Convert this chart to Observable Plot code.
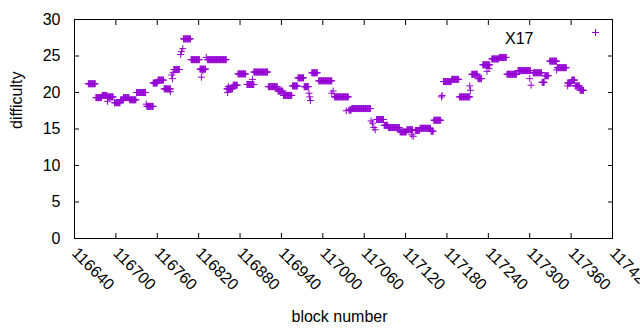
<!DOCTYPE html>
<html>
<head>
<meta charset="utf-8">
<script src="https://cdn.jsdelivr.net/npm/d3@7"></script>
<script src="https://cdn.jsdelivr.net/npm/@observablehq/plot@0.6"></script>
<style>
  html, body { margin: 0; padding: 0; background: #fff; }
  #chart svg { display: block; font-family: "Liberation Sans", Arial, sans-serif; }
</style>
</head>
<body>
<div id="chart"></div>
<script>
// Runs of consecutive blocks sharing (roughly) the same difficulty
const runStart = [116660,116671,116680,116688,116698,116707,116711,116720,116730,116745,116754,116761,116770,116784,116798,116809,116822,116833,116861,116870,116877,116890,116901,116921,116935,116943,116956,116964,116973,116984,116994,117017,117038,117042,117078,117089,117095,117112,117122,117134,117141,117157,117161,117175,117187,117198,117216,117225,117232,117245,117256,117267,117283,117305,117318,117322,117329,117340,117355,117361,117366,117373];
const runEnd   = [116670,116679,116687,116696,116706,116711,116719,116729,116743,116754,116760,116769,116779,116792,116808,116821,116830,116860,116869,116876,116888,116900,116920,116934,116942,116955,116963,116972,116979,116992,117013,117037,117041,117069,117088,117094,117111,117121,117130,117140,117156,117160,117171,117186,117197,117213,117224,117230,117242,117255,117266,117281,117301,117317,117321,117327,117339,117353,117360,117365,117372,117378];
const runDifficulty = [21.2,19.3,19.6,19.4,18.6,19.0,19.3,19.0,20.0,18.1,21.3,21.7,20.5,23.15,27.35,24.5,23.2,24.5,20.5,21.0,22.55,21.1,22.8,20.8,20.2,19.6,20.9,22.0,20.8,22.7,21.6,19.4,17.6,17.8,16.3,15.5,15.2,14.6,14.9,14.8,15.1,14.7,16.2,21.5,21.8,19.4,22.5,21.9,23.8,24.6,24.8,22.5,23.0,22.7,21.4,22.3,24.3,23.4,21.3,21.7,20.9,20.3];

// Isolated blocks
const singleBlock = [116688,116744,116779,116781,116782,116783,116794,116795,116797,116824,116826,116831,116862,116863,116898,116900,116980,116981,116982,117013,117015,117034,117070,117072,117074,117076,117129,117131,117172,117173,117213,117214,117238,117241,117300,117302,117339,117355];
const singleDifficulty = [18.8,18.4,20.1,22.4,21.9,22.7,25.2,25.6,26.0,22.1,23.0,24.8,20.0,20.8,21.8,22.8,19.9,19.4,18.9,19.9,20.2,17.5,16.1,15.8,15.2,14.9,14.2,14.0,19.4,19.6,20.9,20.3,22.9,23.3,21.9,21.0,23.1,20.9];

const xTicks = [116640,116700,116760,116820,116880,116940,117000,117060,117120,117180,117240,117300,117360,117420];
const yTicks = [0,5,10,15,20,25,30];
const seriesName = "X17";
const xTitle = "block number";
const yTitle = "difficulty";

const color = "#9400d3";

const points = [];
runStart.forEach((s, i) => {
  for (let b = s; b <= runEnd[i]; b++) points.push({block: b, difficulty: runDifficulty[i]});
});
singleBlock.forEach((b, i) => points.push({block: b, difficulty: singleDifficulty[i]}));

const plusSymbol = {
  draw(ctx, size) {
    const r = Math.sqrt(size / Math.PI);
    ctx.moveTo(-r, 0); ctx.lineTo(r, 0);
    ctx.moveTo(0, -r); ctx.lineTo(0, r);
  }
};

const chart = Plot.plot({
  width: 640,
  height: 330,
  marginLeft: 74,
  marginRight: 28,
  marginTop: 19,
  marginBottom: 92,
  style: {fontSize: "16px", fontFamily: "Liberation Sans, Arial, sans-serif", color: "#000", background: "#fff"},
  x: {domain: [xTicks[0], xTicks[xTicks.length - 1]]},
  y: {domain: [yTicks[0], yTicks[yTicks.length - 1]]},
  marks: [
    Plot.dot(points, {x: "block", y: "difficulty", symbol: plusSymbol, r: 3.5, stroke: color, strokeWidth: 1, fill: "none"}),
    // inward ticks on all four sides
    Plot.axisY({ticks: yTicks, anchor: "left", tickSize: 5, dx: 5, tickFormat: () => "", label: null}),
    Plot.axisY({ticks: yTicks, anchor: "right", tickSize: 5, dx: -5, tickFormat: () => "", label: null}),
    Plot.axisX({ticks: xTicks, anchor: "bottom", tickSize: 5, dy: -5, tickFormat: () => "", label: null}),
    Plot.axisX({ticks: xTicks, anchor: "top", tickSize: 5, dy: 5, tickFormat: () => "", label: null}),
    // tick labels
    Plot.axisY({ticks: yTicks, anchor: "left", tickSize: 0, tickPadding: 14, label: null}),
    Plot.axisX({ticks: xTicks, anchor: "bottom", tickSize: 0, tickPadding: 12, tickRotate: 45, tickFormat: d => String(d), label: null}),
    // axis titles
    Plot.text([yTitle], {frameAnchor: "left", text: d => d, rotate: -90, dx: -58, fontSize: 16}),
    Plot.text([xTitle], {frameAnchor: "bottom", text: d => d, dx: -4, dy: 83, fontSize: 16}),
    Plot.frame({stroke: "#000", strokeWidth: 1}),
    // legend
    Plot.text([seriesName], {frameAnchor: "top-right", text: d => d, textAnchor: "end", dx: -79, dy: 13, fontSize: 16}),
    Plot.dot([seriesName], {frameAnchor: "top-right", dx: -17, dy: 13, symbol: plusSymbol, r: 3.5, stroke: color, strokeWidth: 1, fill: "none"})
  ]
});
document.getElementById("chart").appendChild(chart);
</script>
</body>
</html>
